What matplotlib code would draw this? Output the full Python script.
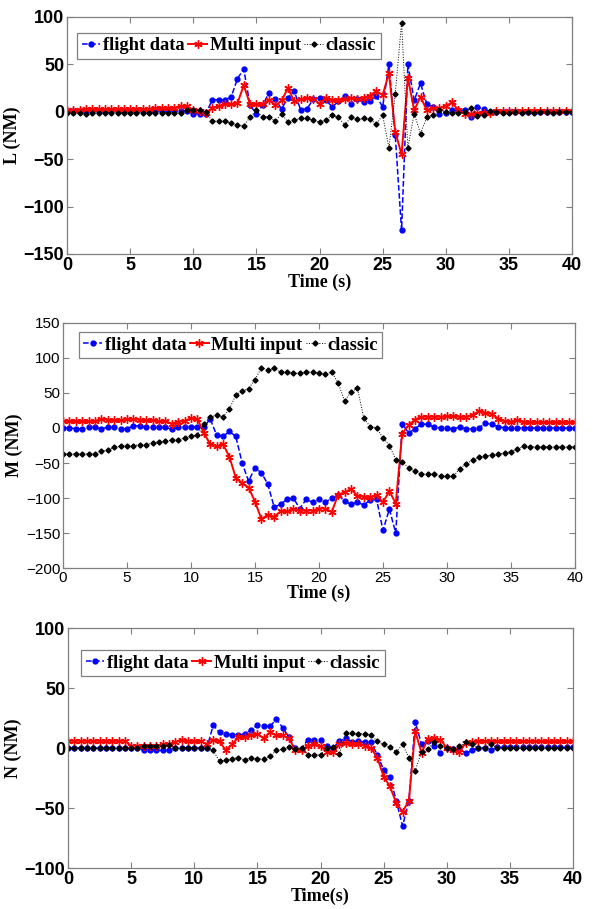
import matplotlib
matplotlib.use("Agg")
import matplotlib.pyplot as plt
import numpy as np

# tiempo, muestreo cada 0.5 s
t = np.arange(0, 40.5, 0.5)

# ---- L (NM) ----
L_vuelo = [1, 1, 1, 1, 1, 1, 1, 1, 1, 1, 1, 1, 1, 1, 1, 1, 1, 1, 1, 1,
           -2, -2, -2, 12.6, 12.6, 12.6, 15.4, 35, 45, 6.7, -2, 7, 20, 13, 3, 15,
           22, 2, 3, 13, 15, 12.6, 5, 11, 17, 8, 14, 10.5, 11, 17, 5, 50, -25,
           -125, 50, 12, 30, 8, 5, -2, -1, 1.5, 2, 1.5, -5, 5, 3, 0, 0, 0, 0,
           0, 0, 0, 0, 0, 0, 0, 0, 0, 0]
L_multi = [2, 2, 2, 2.5, 2.5, 2.5, 2.5, 3, 3, 3, 3, 3, 3, 3, 3.5, 3.5, 4, 4, 5.6, 5.6,
           1.5, 1, -1.4, 4, 6, 8, 8.4, 9, 28, 8, 8, 8.4, 12.6, 6.7, 12, 25,
           11, 13, 15, 14, 8.4, 15, 12.6, 12, 13, 15, 13, 15, 17, 22, 17.5, 41, -21,
           -45, 36, 1.4, 16, 1.4, 4, 4, 6, 10, 1.4, -2, -2, -1.4, -1.4, -1.4, 0.5, 0.5,
           0.5, 0.5, 0.5, 1, 1, 1, 1, 0.5, 0.5, 0.5, 0.5]
L_clasico = [-1, -1.5, -1.5, -2, -1.5, -1.5, -1.5, -1, -1, -1.5, -1, -1, -1, -1, -1.5, -1, -1, -1.5, -1.5, 2,
             2, 2, 0, -10, -10, -10, -12, -14, -15, -5.6, 1.4, -6, -5, -10, -2, -11,
             -9, -7, -7, -9, -11, -9, -3.5, -6, -14, -5.6, -8, -7, -8, -13, -3.5, -38, 19,
             94, -38, -2, -23, -5.6, -3.5, 2, 0, -1.4, -1, 0, 3.5, -4, -3, 1, 0, -1,
             -1, 0, -1, 0, -1, 0, 0, -1, 0, 0, 0]

# ---- M (NM) ----
M_vuelo = [0, 0, -1, -1, 1, 1, -1, 1, 1, -1, -1, 3, 3, 1, 1, 1, 1, -2, 1, 1,
           1.5, 1.5, 1, 13, -10, -12, -5, -12, -50, -76, -57, -64, -80, -113, -109, -102,
           -100, -115, -102, -106, -102, -106, -100, -96, -104, -109, -106, -110, -103, -102, -146, -116, -150,
           6, -7, -1.5, 6, 5, 1.5, 0, 0, -1.5, 1.5, -1.5, -1, 0, 7, 5, 2, 0,
           0, 0, 0, 0, 0, 0, 0, 0, 0, 0, 0]
M_multi = [10, 10, 10, 10, 10, 10, 13, 12, 11, 11, 13, 13, 12, 11, 11, 10, 10, 6, 9, 10,
           14, 13, -7, -23, -26, -23, -41, -71, -79, -85, -105, -130, -124, -127, -119, -119,
           -116, -118, -118, -118, -115, -115, -120, -95, -92, -87, -97, -98, -99, -96, -106, -90, -108,
           -8, 4, 12, 16, 16, 16, 16, 17, 17, 16, 16, 19, 24, 22, 20, 13, 10,
           9, 12, 8, 8, 8, 8, 8, 8, 8, 8, 8]
M_clasico = [-37, -37, -37, -37, -37, -37, -33, -32, -27, -26, -26, -25, -24, -24, -21, -20, -19, -17, -17, -14,
             -12, -10, 5, 16, 18, 16, 27, 47, 53, 56, 69, 86, 83, 85, 80, 80,
             78, 78, 80, 80, 78, 77, 80, 64, 39, 51, 57, 14, 2, 0, -14, -25, -45,
             -48, -57, -62, -66, -66, -66, -69, -69, -69, -58, -51, -46, -41, -40, -39, -37, -36,
             -34, -30, -26, -27, -27, -27, -27, -27, -27, -27, -27]

# ---- N (NM) ----
N_vuelo = [0, 0, 0, 0, 0, 0, 0, 0, 0, 0, 0, 0, -2, -2, -2, -2, -2, 0, 0, 0,
           0, 0, 0, 19, 13, 12, 10.5, 10.5, 12, 15, 19, 18.6, 18, 24, 17, 9,
           0, -0.5, 7, 7, 6.7, 2, 0, 6, 8, 5, 5.5, 5, 5, -6, -18, -24, -44,
           -65, -44, 22, 3, 5.5, 1.4, -4, 0, -0.5, -0.5, -4.4, -2, 0, 0, -2, 0.5, 0.5,
           0.5, 0.5, 0.5, 0.5, 0.5, 0.5, 0.5, 0.5, 0.5, 0.5, 0.5]
N_multi = [6, 6, 6, 6, 6, 6, 6, 6, 6, 6, 1.7, 2, 2, 2, 2, 3, 3, 5, 7, 5.5,
           5.5, 6, 3, 7, 5.5, -2, 3, 9, 9, 10.5, 12, 8, 13, 10.5, 10.5, 8,
           -2, -2, 2, 3, 1.4, -3, -3.6, 3, 4, 3, 3, 2, 0, -8, -24, -32, -46,
           -53, -44, 14, -4, 7.5, 8, 7, 0, -2, -3, 4, 5, 5.5, 5.5, 5.5, 5.5, 5.5,
           5.5, 5.5, 5.5, 5.5, 5.5, 5.5, 5.5, 5.5, 5.5, 5.5, 5.5]
N_clasico = [0, 0, 0, 0, 0, 0, 0, 0, 0, 0, 0, 0, 2, 2, 2, 1.5, 2.5, 0, 0, 0,
             0, 0, 0, -2, -11, -10, -9, -8, -10, -8, -9, -9, -7, -2, -1, 0.5,
             -1, 0, -5.5, -6, -5.5, 0, 0.5, -5, 12.5, 12.5, 12, 12, 11, 5.5, 3, 0.5, -3.3,
             3, -8, -19, -3, -0.5, 5, 1.4, 0, -0.5, 1.4, 5, 3, 0, 0, 3, 0, 0,
             0, 0, 0, 0, 0, 0, 0, 0, 0, 0, 0]

# ylabel, xlabel, series, ylim, negrita, posicion ejes, ancla leyenda
paneles = [
    ("L (NM)", "Time (s)", L_vuelo, L_multi, L_clasico, (-150, 100), True,
     [0.113, 0.7206, 0.8516, 0.2607], (0.02, 0.933)),
    ("M (NM)", "Time (s)", M_vuelo, M_multi, M_clasico, (-200, 150), False,
     [0.1062, 0.3751, 0.8634, 0.2696], (0.031, 0.963)),
    ("N (NM)", "Time(s)", N_vuelo, N_multi, N_clasico, (-100, 100), True,
     [0.1147, 0.0451, 0.8516, 0.2640], (0.026, 0.908)),
]

gris = "#808080"
serif = "Liberation Serif"
sans = "Liberation Sans"
asterisco = (6, 2, 0)

fig = plt.figure(figsize=(5.93, 9.09), dpi=100)
for ylab, xlab, fv, fm, fc, ylim, negrita, pos, ancla in paneles:
    ax = fig.add_axes(pos)
    ax.plot(t, fv, "--", color="blue", marker=".", markersize=7, lw=1.1,
            label="flight data")
    ax.plot(t, fm, "-", color="red", marker=asterisco, markersize=6, mew=1.0,
            lw=1.4, label="Multi input")
    ax.plot(t, fc, ":", color="black", marker="D", markersize=2.6, lw=0.7,
            label="classic")
    ax.set_xlim(0, 40)
    ax.set_ylim(*ylim)
    ax.set_xticks(np.arange(0, 41, 5))
    ax.set_yticks(np.arange(ylim[0], ylim[1] + 1, 50))
    peso = "bold" if negrita else "normal"
    tam = 13 if negrita else 11
    ax.tick_params(direction="in", top=True, right=True, color=gris,
                   length=4, width=0.8, labelsize=tam, pad=2)
    for lbl in ax.get_xticklabels() + ax.get_yticklabels():
        lbl.set_fontfamily(sans)
        lbl.set_fontweight(peso)
    for s in ax.spines.values():
        s.set_color(gris)
        s.set_linewidth(0.9)
    ax.set_xlabel(xlab, fontfamily=serif, fontweight="bold", fontsize=13,
                  labelpad=0)
    ax.set_ylabel(ylab, fontfamily=serif, fontweight="bold", fontsize=13,
                  labelpad=2)
    leg = ax.legend(loc="upper left", bbox_to_anchor=ancla, ncol=3,
                    fancybox=False, framealpha=1, edgecolor=gris,
                    handlelength=1.0, handletextpad=0.15, columnspacing=0.2,
                    borderpad=0.25, borderaxespad=0,
                    prop={"family": serif, "weight": "bold", "size": 13.3})
    leg.get_frame().set_linewidth(0.9)

fig.savefig("out.png", dpi=100)
